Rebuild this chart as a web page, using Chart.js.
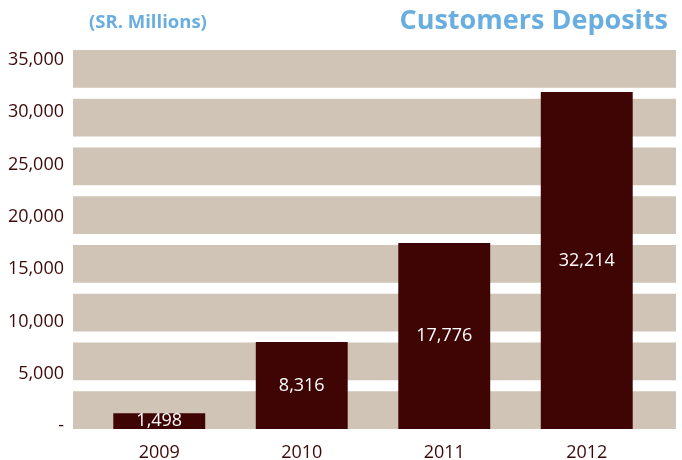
<!DOCTYPE html>
<html>
<head>
<meta charset="utf-8">
<script src="https://cdn.jsdelivr.net/npm/chart.js@4.4.1/dist/chart.umd.min.js"></script>
<style>
  html, body { margin: 0; padding: 0; background: #fff; }
  #wrap { width: 682px; height: 460px; }
</style>
</head>
<body>
<div id="wrap"><canvas id="depositsChart"></canvas></div>
<script>
// data
const years = ['2009', '2010', '2011', '2012'];
const deposits = [1498, 8316, 17776, 32214];
const yTickValues = [0, 5000, 10000, 15000, 20000, 25000, 30000, 35000];
const titleText = 'Customers Deposits';
const unitText = '(SR. Millions)';

const BAR_COLOR = '#3f0404';
const BAND_COLOR = '#cfc4b6';
const TEXT_COLOR = '#3d0909';
const BLUE = '#6aaee0';
const FONT = "'Open Sans', sans-serif";

// tan stripes behind the bars, white gaps in between
const bandsPlugin = {
    id: 'bands',
    beforeDraw(chart) {
        const { ctx, chartArea } = chart;
        const count = 8;
        const gap = 11;
        const left = chartArea.left - 15;
        const right = chartArea.right + 18;
        const bandH = (chartArea.bottom - chartArea.top - gap * (count - 1)) / count;
        ctx.save();
        ctx.fillStyle = BAND_COLOR;
        for (let i = 0; i < count; i++) {
            const y = chartArea.top + i * (bandH + gap);
            ctx.fillRect(left, y, right - left, bandH);
        }
        ctx.restore();
    }
};

// white value inside each bar
const valueLabels = {
    id: 'valueLabels',
    afterDatasetsDraw(chart) {
        const { ctx } = chart;
        const meta = chart.getDatasetMeta(0);
        ctx.save();
        ctx.fillStyle = '#ffffff';
        ctx.font = '18px ' + FONT;
        ctx.textAlign = 'center';
        ctx.textBaseline = 'middle';
        meta.data.forEach((bar, i) => {
            const y = (bar.y + bar.base) / 2;
            ctx.fillText(deposits[i].toLocaleString('en-US'), bar.x, y);
        });
        ctx.restore();
    }
};

// heading line: unit on the left, title on the right
const header = {
    id: 'header',
    afterDraw(chart) {
        const { ctx, chartArea } = chart;
        ctx.save();
        ctx.fillStyle = BLUE;
        ctx.textBaseline = 'middle';
        ctx.font = 'bold 18.5px ' + FONT;
        ctx.textAlign = 'left';
        ctx.fillText(unitText, chartArea.left + 1, 23);
        ctx.font = 'bold 27px ' + FONT;
        ctx.textAlign = 'right';
        ctx.fillText(titleText, 668, 21);
        ctx.restore();
    }
};

new Chart(document.getElementById('depositsChart'), {
    type: 'bar',
    data: {
        labels: years,
        datasets: [{
            data: deposits,
            backgroundColor: BAR_COLOR,
            borderWidth: 0,
            barPercentage: 0.645,
            categoryPercentage: 1
        }]
    },
    options: {
        responsive: true,
        maintainAspectRatio: false,
        animation: false,
        layout: { padding: { top: 50, right: 24, bottom: 0, left: 0 } },
        plugins: {
            legend: { display: false },
            tooltip: { enabled: false }
        },
        scales: {
            x: {
                grid: { display: false },
                border: { display: false },
                ticks: {
                    color: TEXT_COLOR,
                    font: { family: FONT, size: 18 },
                    padding: 5
                },
                afterFit(scale) { scale.height = 31; }
            },
            y: {
                min: 0,
                max: 36230,
                grid: { display: false },
                border: { display: false },
                afterBuildTicks(scale) {
                    scale.ticks = yTickValues.map(v => ({ value: v }));
                },
                afterFit(scale) { scale.width = 88; },
                ticks: {
                    color: TEXT_COLOR,
                    font: { family: FONT, size: 18 },
                    padding: 16,
                    labelOffset: -3,
                    callback: v => v === 0 ? '-' : v.toLocaleString('en-US')
                }
            }
        }
    },
    plugins: [bandsPlugin, valueLabels, header]
});
</script>
</body>
</html>
